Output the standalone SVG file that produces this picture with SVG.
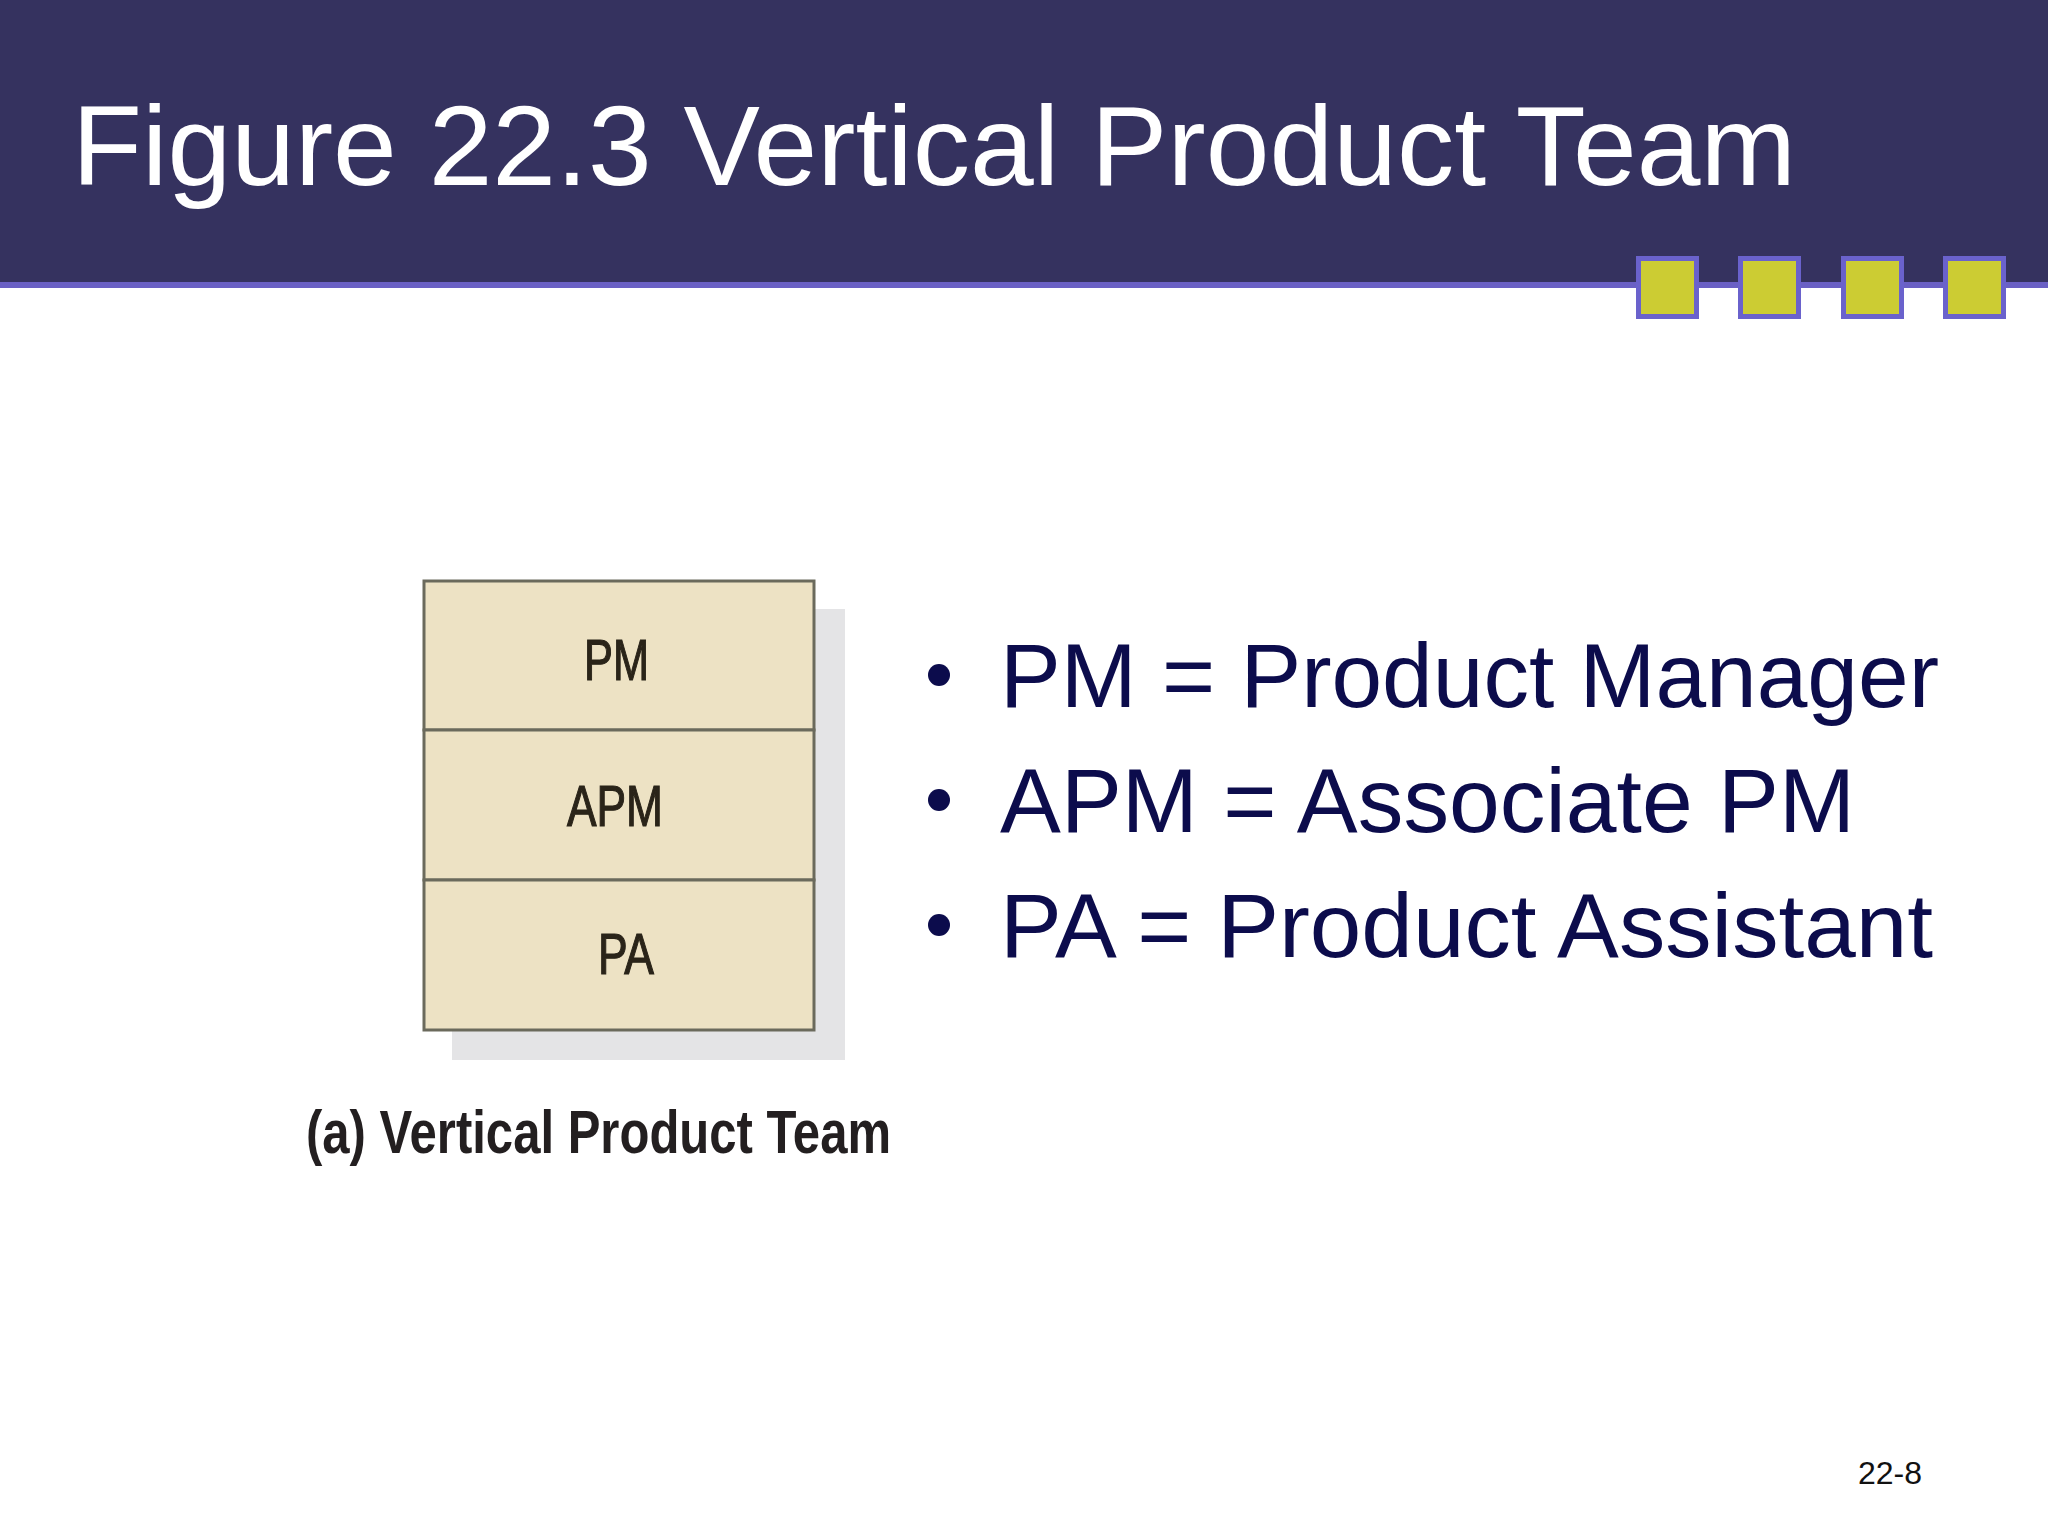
<svg xmlns="http://www.w3.org/2000/svg" width="2048" height="1536" viewBox="0 0 2048 1536">
<style>
.title{font-family:"Liberation Sans",Arial,sans-serif;font-size:114px;fill:#ffffff}
.sq{fill:#CCCC33;stroke:#6A62CC;stroke-width:5}
.cell{fill:#EDE2C4;stroke:#6B6A5C;stroke-width:3}
.lbl{font-family:"Liberation Sans",Arial,sans-serif;font-size:58px;fill:#2A2419;stroke:#2A2419;stroke-width:1.2}
.bul{font-family:"Liberation Sans",Arial,sans-serif;font-size:91px;fill:#0C0C4C}
.dot{fill:#0C0C4C}
</style>
<rect x="0" y="0" width="2048" height="1536" fill="#ffffff"/>
<g id="header">
<rect x="0" y="0" width="2048" height="283" fill="#35325F"/>
<rect x="0" y="282" width="2048" height="6" fill="#6A60C4"/>
<text class="title" x="72" y="185" textLength="1724" lengthAdjust="spacingAndGlyphs">Figure 22.3 Vertical Product Team</text>
</g>
<g id="squares">
<rect class="sq" x="1638.5" y="258.5" width="58" height="58"/>
<rect class="sq" x="1740.5" y="258.5" width="58" height="58"/>
<rect class="sq" x="1843.5" y="258.5" width="58" height="58"/>
<rect class="sq" x="1945.5" y="258.5" width="58" height="58"/>
</g>
<rect id="shadow" x="452" y="609" width="393" height="451" fill="#E4E4E6"/>
<g id="node-pm">
<rect class="cell" x="424" y="581" width="390" height="149"/>
<text class="lbl" x="584" y="680" textLength="65" lengthAdjust="spacingAndGlyphs">PM</text>
</g>
<g id="node-apm">
<rect class="cell" x="424" y="730" width="390" height="150"/>
<text class="lbl" x="567" y="826" textLength="96" lengthAdjust="spacingAndGlyphs">APM</text>
</g>
<g id="node-pa">
<rect class="cell" x="424" y="880" width="390" height="150"/>
<text class="lbl" x="598" y="974" textLength="56" lengthAdjust="spacingAndGlyphs">PA</text>
</g>
<g id="connectors"></g>
<text id="caption" x="306" y="1153" font-family="'Liberation Sans',Arial,sans-serif" font-weight="bold" font-size="62" fill="#231F20" textLength="585" lengthAdjust="spacingAndGlyphs">(a) Vertical Product Team</text>
<g id="bullets">
<circle class="dot" cx="939" cy="675" r="11"/>
<text class="bul" x="1000" y="707" textLength="939" lengthAdjust="spacingAndGlyphs">PM = Product Manager</text>
<circle class="dot" cx="939" cy="800" r="11"/>
<text class="bul" x="1000" y="832" textLength="855" lengthAdjust="spacingAndGlyphs">APM = Associate PM</text>
<circle class="dot" cx="939" cy="925" r="11"/>
<text class="bul" x="1000" y="957" textLength="933" lengthAdjust="spacingAndGlyphs">PA = Product Assistant</text>
</g>
<text id="pagenum" x="1858" y="1484" font-family="'Liberation Sans',Arial,sans-serif" font-size="32" fill="#111111">22-8</text>
</svg>
